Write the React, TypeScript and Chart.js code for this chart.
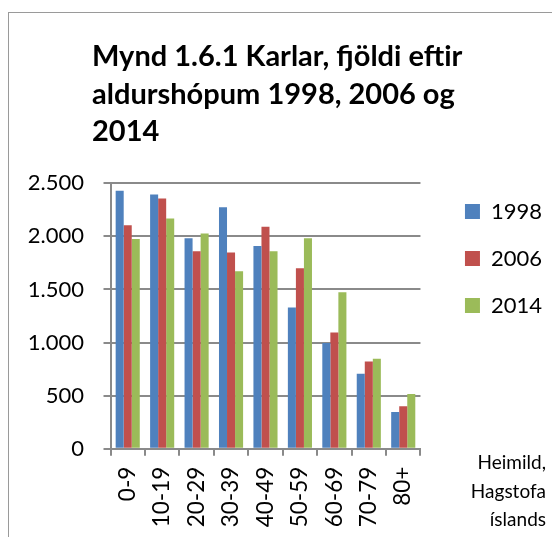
import React, { useEffect, useRef } from 'react';
import { Chart, registerables } from 'chart.js';

Chart.register(...registerables);

const titleLines = ['Mynd 1.6.1 Karlar, fjöldi eftir', 'aldurshópum 1998, 2006 og', '2014'];
const categories = ['0-9', '10-19', '20-29', '30-39', '40-49', '50-59', '60-69', '70-79', '80+'];
const seriesNames = ['1998', '2006', '2014'];
const values1998 = [2430, 2395, 1982, 2275, 1910, 1330, 995, 706, 345];
const values2006 = [2105, 2356, 1860, 1848, 2090, 1700, 1095, 822, 399];
const values2014 = [1976, 2168, 2026, 1672, 1860, 1982, 1474, 847, 515];
const seriesColors = ['#4F81BD', '#C0504D', '#9BBB59'];
const yTickLabels = ['0', '500', '1.000', '1.500', '2.000', '2.500'];
const yStep = 500;
const yMax = 2500;
const sourceLines = ['Heimild,', 'Hagstofa', 'íslands'];

const gridColor = '#8a8a8a';
const FONT = 'Lato';

// keeps the title's left edge where the reference puts it
const titleLeftPlugin = {
  id: 'titleLeft',
  afterLayout(chart: any) {
    const t = chart.titleBlock;
    if (t) t.left = 92;
  },
};

export default function App() {
  const ref = useRef<HTMLCanvasElement>(null);

  useEffect(() => {
    document.body.style.overflow = 'hidden';
    const chart = new Chart(ref.current as HTMLCanvasElement, {
      type: 'bar',
      data: {
        labels: categories,
        datasets: [values1998, values2006, values2014].map((d, i) => ({
          label: seriesNames[i],
          data: d,
          backgroundColor: seriesColors[i],
          borderWidth: 0,
          categoryPercentage: 0.7,
          barPercentage: 1,
          xAxisID: 'x',
          yAxisID: 'y',
        })),
      },
      plugins: [titleLeftPlugin],
      options: {
        responsive: false,
        animation: false,
        layout: { padding: { left: 10, top: -20, right: 0, bottom: 0 } },
        plugins: {
          title: {
            display: true,
            text: titleLines,
            align: 'start',
            color: '#000',
            font: { family: FONT, size: 29, weight: 'bold', lineHeight: '37.5px' },
            padding: { top: 58, bottom: 32.8 },
          },
          legend: {
            position: 'right',
            align: 'center',
            maxWidth: 200,
            labels: {
              boxWidth: 15,
              boxHeight: 15,
              padding: 25,
              color: '#000',
              font: { family: FONT, size: 22 },
            },
          },
          tooltip: { enabled: false },
        },
        scales: {
          x: {
            grid: {
              display: true,
              drawOnChartArea: false,
              drawTicks: true,
              tickLength: 7,
              color: gridColor,
              lineWidth: 2,
              offset: true,
            },
            border: { display: true, color: gridColor, width: 2 },
            ticks: {
              minRotation: 90,
              maxRotation: 90,
              autoSkip: false,
              padding: 11,
              color: '#000',
              font: { family: FONT, size: 22.5 },
            },
            afterFit: (s: any) => {
              s.height = 88.3;
            },
          },
          y: {
            min: 0,
            max: yMax,
            ticks: {
              stepSize: yStep,
              padding: 19.5,
              color: '#000',
              font: { family: FONT, size: 22 },
              callback: (v: any) => yTickLabels[Math.round(Number(v) / yStep)],
            },
            grid: { color: gridColor, lineWidth: 2, tickLength: 7 },
            border: { display: true, color: gridColor, width: 2 },
            afterFit: (s: any) => {
              s.width = 100.5;
            },
          },
          spacer: {
            type: 'linear',
            position: 'right',
            display: true,
            grid: { display: false },
            ticks: { display: false },
            border: { display: false },
            afterFit: (s: any) => {
              s.width = 19.5;
            },
          },
        },
      } as any,
    });
    return () => chart.destroy();
  }, []);

  return (
    <div>
      <div
        style={{
          position: 'absolute',
          left: 8,
          top: 12,
          width: 544,
          height: 525,
          boxSizing: 'border-box',
          borderLeft: '1px solid #9a9a9a',
          borderTop: '1px solid #9a9a9a',
        }}
      />
      <div style={{ position: 'absolute', left: 0, top: 0, width: 552, height: 537 }}>
        <canvas ref={ref} width={552} height={537} style={{ display: 'block' }} />
      </div>
      <div
        style={{
          position: 'absolute',
          left: 0,
          top: 448.4,
          width: 546,
          textAlign: 'right',
          fontFamily: FONT,
          fontSize: 19,
          lineHeight: '28.5px',
          color: '#000',
        }}
      >
        {sourceLines.map((l, i) => (
          <div key={i}>{l}</div>
        ))}
      </div>
    </div>
  );
}
